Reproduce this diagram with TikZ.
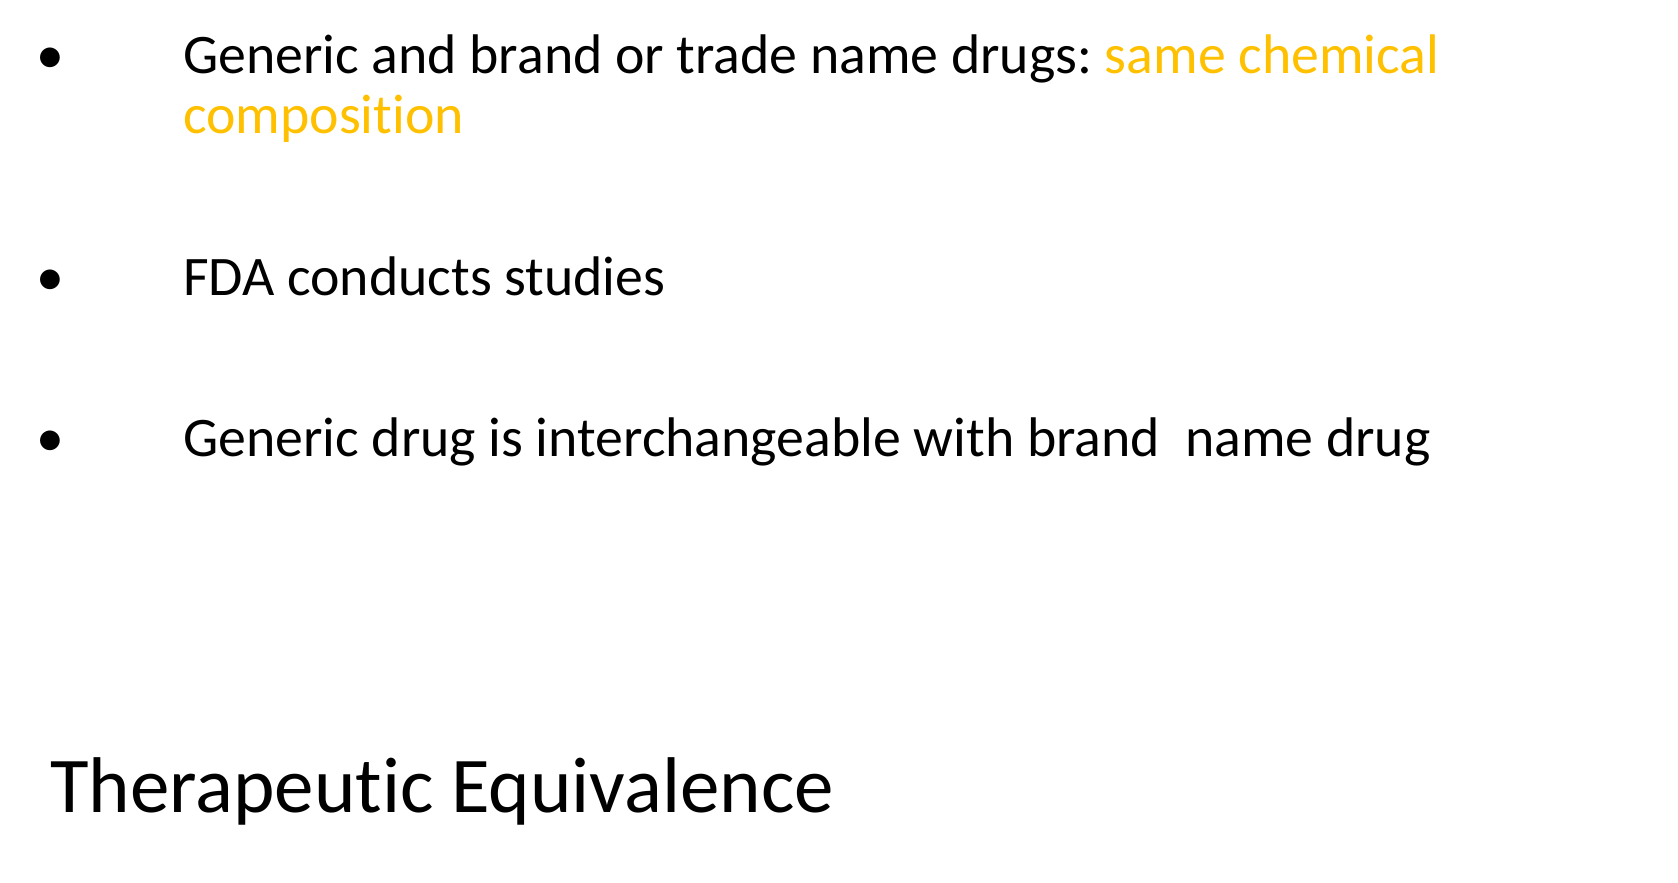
\documentclass[tikz,border=0pt]{standalone}
\usepackage{fontspec}
\setmainfont[Ligatures=NoCommon]{Carlito}
\definecolor{gold}{HTML}{FFC000}
\frenchspacing
\begin{document}
\begin{tikzpicture}[x=1pt,y=-1pt,
  txt/.style={anchor=base west, inner sep=0pt, font=\fontsize{55.8}{60}\selectfont},
  bul/.style={anchor=base, inner sep=0pt, font=\fontsize{55.8}{60}\selectfont},
  ttl/.style={anchor=base west, inner sep=0pt, font=\fontsize{79}{90}\selectfont}]
\fill[white] (0,0) rectangle (1678,883);
\useasboundingbox (0,0) rectangle (1678,883);
\node[bul] (b1) at (50.6,74) {•};
\node[txt] (l1) at (183,74) {Generic and brand or trade name drugs: \textcolor{gold}{same chemical}};
\node[txt,text=gold] (l1b) at (183,133) {composition};
\node[bul] (b2) at (50.6,295) {•};
\node[txt] (l2) at (183,295) {FDA conducts studies};
\node[bul] (b3) at (50.6,456) {•};
\node[txt] (l3) at (183,456) {Generic drug is interchangeable with brand\ \ name drug};
\node[ttl] (t) at (50,812) {Therapeutic Equivalence};
\end{tikzpicture}
\end{document}
